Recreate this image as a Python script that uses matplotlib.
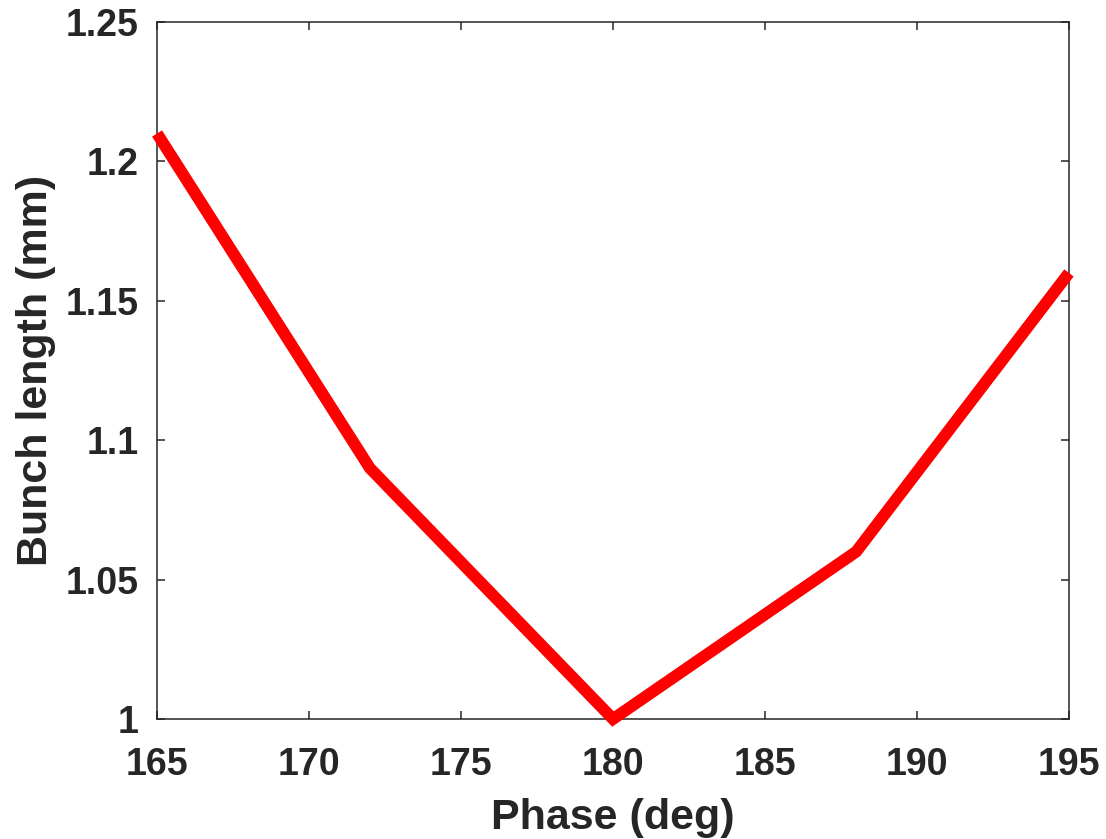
import matplotlib
matplotlib.use("Agg")
import matplotlib.pyplot as plt

phase_deg = [165, 172, 180, 188, 195]
bunch_length_mm = [1.21, 1.09, 1.00, 1.06, 1.16]
x_ticks = [165, 170, 175, 180, 185, 190, 195]
y_ticks = [1.0, 1.05, 1.10, 1.15, 1.20, 1.25]
y_tick_labels = ["1", "1.05", "1.1", "1.15", "1.2", "1.25"]

plt.rcParams["font.family"] = ["Liberation Sans", "DejaVu Sans"]
plt.rcParams["font.weight"] = "bold"

dark = "#262626"
fig = plt.figure(figsize=(11.06, 8.39), dpi=100)
ax = fig.add_axes([0.142, 0.143, 0.8245, 0.8308])

ax.plot(phase_deg, bunch_length_mm, color="#ff0000", linewidth=8.5,
        solid_capstyle="butt", solid_joinstyle="miter", clip_on=False, zorder=3)

ax.set_xlim(165, 195)
ax.set_ylim(1.0, 1.25)
ax.set_xticks(x_ticks)
ax.set_xticklabels([str(v) for v in x_ticks])
ax.set_yticks(y_ticks)
ax.set_yticklabels(y_tick_labels)

ax.tick_params(axis="both", direction="in", length=6, width=1.1, colors=dark,
               labelsize=27, top=True, right=True)
ax.tick_params(axis="x", pad=20)
ax.tick_params(axis="y", pad=13)
for lbl in ax.get_xticklabels() + ax.get_yticklabels():
    lbl.set_fontweight("bold")
    lbl.set_color(dark)
for sp in ax.spines.values():
    sp.set_color(dark)
    sp.set_linewidth(1.1)

ax.set_xlabel("Phase (deg)", fontsize=31, fontweight="bold", color=dark, labelpad=11)
ax.set_ylabel("Bunch length (mm)", fontsize=31, fontweight="bold", color=dark, labelpad=7)

fig.savefig("out.png", dpi=100, facecolor="white")
